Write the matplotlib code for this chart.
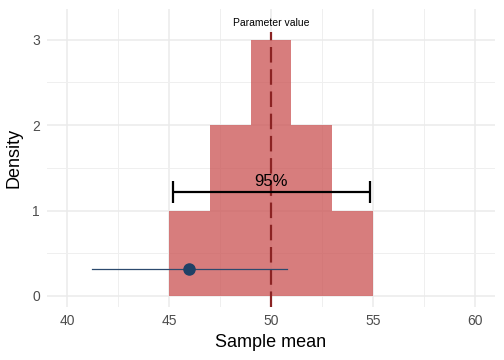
import matplotlib
matplotlib.use("Agg")
import matplotlib.pyplot as plt
import numpy as np

plt.rcParams['font.family'] = ['Liberation Sans', 'DejaVu Sans']

# Data
bin_edges = [45, 47, 49, 51, 53, 55]
densities = [1, 2, 3, 2, 1]
parameter_value = 50
parameter_line_top = 3.09
ci95_low, ci95_high, ci95_y = 45.2, 54.85, 1.22
sample_mean, sample_low, sample_high, sample_y = 46.0, 41.2, 50.8, 0.31
x_ticks = [40, 45, 50, 55, 60]
y_ticks = [0, 1, 2, 3]

fig = plt.figure(figsize=(5.04, 3.6), dpi=100)
ax = fig.add_axes([0.093, 0.147, 0.889, 0.828])

ylo, yhi = -0.13, 3.36
edges = np.array(bin_edges)
ax.bar(edges[:-1], densities, width=np.diff(edges), align='edge',
       color='indianred', alpha=0.8, linewidth=0, zorder=2)

ax.vlines(parameter_value, ylo, parameter_line_top, color='#8B2323',
          linestyle=(0, (7, 3)), linewidth=1.6, zorder=3)
ax.text(parameter_value, 3.2, 'Parameter value', ha='center', va='center', fontsize=7.5, color='black', zorder=5)

# 95% interval
ax.errorbar([(ci95_low + ci95_high) / 2], [ci95_y],
            xerr=[[(ci95_high - ci95_low) / 2], [(ci95_high - ci95_low) / 2]],
            fmt='none', ecolor='black', elinewidth=1.6, capsize=8, capthick=1.6, zorder=4)
ax.text((ci95_low + ci95_high) / 2, ci95_y + 0.035, '95%', ha='center', va='bottom', fontsize=12, zorder=5)

# sample interval
ax.plot([sample_low, sample_high], [sample_y, sample_y], color='#2C4A6E', linewidth=0.9, zorder=4)
ax.plot([sample_mean], [sample_y], 'o', color='#1F4166', markersize=8, zorder=5)

ax.set_xlim(39, 61)
ax.set_ylim(ylo, yhi)
ax.set_xticks(x_ticks)
ax.set_yticks(y_ticks)
ax.set_xticks([42.5, 47.5, 52.5, 57.5], minor=True)
ax.set_yticks([0.5, 1.5, 2.5], minor=True)
ax.grid(which='major', color='#EBEBEB', linewidth=1.1)
ax.grid(which='minor', color='#EFEFEF', linewidth=0.7)
ax.set_axisbelow(True)
for s in ax.spines.values():
    s.set_visible(False)
ax.tick_params(which='both', length=0, labelsize=10, labelcolor='#4D4D4D', pad=5)
ax.set_xlabel('Sample mean', fontsize=13, labelpad=4)
ax.set_ylabel('Density', fontsize=13, labelpad=7)

fig.savefig('out.png', dpi=100)
